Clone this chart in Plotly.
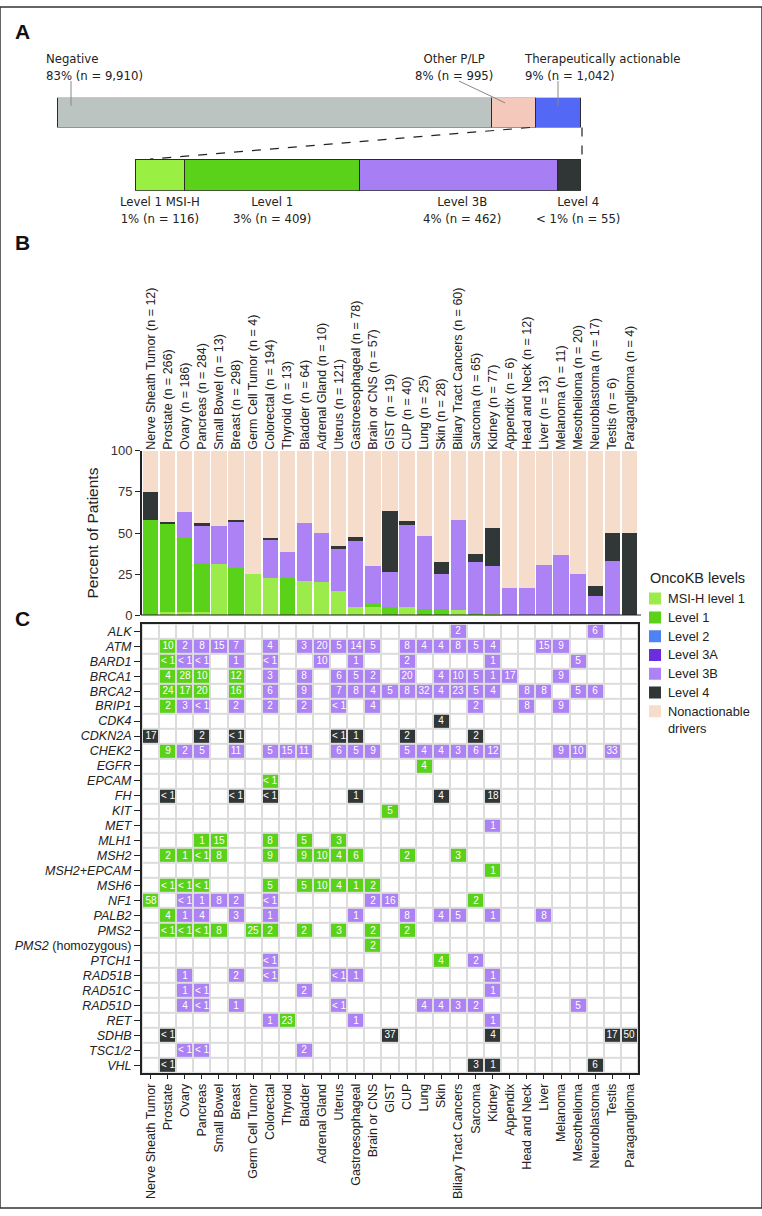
import plotly.graph_objects as go

W, H = 762, 1216

# ---------------- panel A ----------------
OVERVIEW_LABELS = ["Negative", "Other P/LP", "Therapeutically actionable"]
OVERVIEW_COUNTS = [9910, 995, 1042]
OVERVIEW_PCT = ["83%", "8%", "9%"]
OVERVIEW_COLORS = ["#bcc4c1", "#f4c8ba", "#5468f6"]

ACTIONABLE_LABELS = ["Level 1 MSI-H", "Level 1", "Level 3B", "Level 4"]
ACTIONABLE_COUNTS = [116, 409, 462, 55]
ACTIONABLE_PCT = ["1%", "3%", "4%", "< 1%"]
ACTIONABLE_COLORS = ["#9af042", "#5bd21a", "#a87ef4", "#303535"]

# ---------------- panel B ----------------
CANCERS = [
    "Nerve Sheath Tumor", "Prostate", "Ovary", "Pancreas", "Small Bowel", "Breast",
    "Germ Cell Tumor", "Colorectal", "Thyroid", "Bladder", "Adrenal Gland", "Uterus",
    "Gastroesophageal", "Brain or CNS", "GIST", "CUP", "Lung", "Skin",
    "Biliary Tract Cancers", "Sarcoma", "Kidney", "Appendix", "Head and Neck", "Liver",
    "Melanoma", "Mesothelioma", "Neuroblastoma", "Testis", "Paraganglioma",
]
CANCER_N = [12, 266, 186, 284, 13, 298, 4, 194, 13, 64, 10, 121, 78, 57, 19, 40, 25, 28,
            60, 65, 77, 6, 12, 13, 11, 20, 17, 6, 4]

MSI_H_LEVEL1 = [0, 2, 2, 2, 31, 0, 25, 23, 0, 20.6, 20, 15, 5, 5, 0, 5, 0, 0, 3, 0, 1,
                0, 0, 0, 0, 0, 0, 0, 0]
LEVEL1 = [58, 53.5, 45, 30, 0, 28.6, 0, 0, 23, 0, 0, 0, 0, 2, 5, 0, 4, 4, 0, 1.5, 0,
          0, 0, 0, 0, 0, 0, 0, 0]
LEVEL3B = [0, 0, 16, 22, 23, 28.6, 0, 23, 15.4, 35.6, 30, 26, 40, 23, 21.4, 50.2, 44.2,
           21.2, 55.2, 31.1, 29, 16.7, 16.7, 30.8, 36.4, 25, 11.8, 33.3, 0]
LEVEL4 = [17, 1.3, 0, 2, 0, 0.8, 0, 1, 0, 0, 0, 1, 2.6, 0, 36.8, 2.4, 0, 7.2, 0, 4.4,
          23.2, 0, 0, 0, 0, 0, 5.9, 16.7, 50]
NONACTIONABLE = [25, 43.2, 37, 44, 46, 42, 75, 53, 61.6, 43.8, 50, 58, 52.4, 70, 36.8,
                 42.4, 51.8, 67.6, 41.8, 63, 46.8, 83.3, 83.3, 69.2, 63.6, 75, 82.3, 50, 50]

LEGEND_LABELS = ["MSI-H level 1", "Level 1", "Level 2", "Level 3A", "Level 3B", "Level 4",
                 "Nonactionable<br>drivers"]

# ---------------- panel C ----------------
GENES = [
    "ALK", "ATM", "BARD1", "BRCA1", "BRCA2", "BRIP1", "CDK4", "CDKN2A", "CHEK2", "EGFR",
    "EPCAM", "FH", "KIT", "MET", "MLH1", "MSH2", "MSH2+EPCAM", "MSH6", "NF1", "PALB2",
    "PMS2", "PMS2 (homozygous)", "PTCH1", "RAD51B", "RAD51C", "RAD51D", "RET", "SDHB",
    "TSC1/2", "VHL",
]
# column index : level (g = level 1, p = level 3B, k = level 4) : percent
GRID_CELLS = [
    "18:p:2 26:p:6",
    "1:g:10 2:p:2 3:p:8 4:p:15 5:p:7 7:p:4 9:p:3 10:p:20 11:p:5 12:p:14 13:p:5 15:p:8 "
    "16:p:4 17:p:4 18:p:8 19:p:5 20:p:4 23:p:15 24:p:9",
    "1:g:<1 2:p:<1 3:p:<1 5:p:1 7:p:<1 10:p:10 12:p:1 15:p:2 20:p:1 25:p:5",
    "1:g:4 2:g:28 3:g:10 5:g:12 7:p:3 9:p:8 11:p:6 12:p:5 13:p:2 15:p:20 17:p:4 18:p:10 "
    "19:p:5 20:p:1 21:p:17 24:p:9",
    "1:g:24 2:g:17 3:g:20 5:g:16 7:p:6 9:p:9 11:p:7 12:p:8 13:p:4 14:p:5 15:p:8 16:p:32 "
    "17:p:4 18:p:23 19:p:5 20:p:4 22:p:8 23:p:8 25:p:5 26:p:6",
    "1:g:2 2:p:3 3:p:<1 5:p:2 7:p:2 9:p:2 11:p:<1 13:p:4 19:p:2 22:p:8 24:p:9",
    "17:k:4",
    "0:k:17 3:k:2 5:k:<1 11:k:<1 12:k:1 15:k:2 19:k:2",
    "1:g:9 2:p:2 3:p:5 5:p:11 7:p:5 8:p:15 9:p:11 11:p:6 12:p:5 13:p:9 15:p:5 16:p:4 "
    "17:p:4 18:p:3 19:p:6 20:p:12 24:p:9 25:p:10 27:p:33",
    "16:g:4",
    "7:g:<1",
    "1:k:<1 5:k:<1 7:k:<1 12:k:1 17:k:4 20:k:18",
    "14:g:5",
    "20:p:1",
    "3:g:1 4:g:15 7:g:8 9:g:5 11:g:3",
    "1:g:2 2:g:1 3:g:<1 4:g:8 7:g:9 9:g:9 10:g:10 11:g:4 12:g:6 15:g:2 18:g:3",
    "20:g:1",
    "1:g:<1 2:g:<1 3:g:<1 7:g:5 9:g:5 10:g:10 11:g:4 12:g:1 13:g:2",
    "0:g:58 2:p:<1 3:p:1 4:p:8 5:p:2 7:p:<1 13:p:2 14:p:16 19:g:2",
    "1:g:4 2:p:1 3:p:4 5:p:3 7:p:1 12:p:1 15:p:8 17:p:4 18:p:5 20:p:1 23:p:8",
    "1:g:<1 2:g:<1 3:g:<1 4:g:8 6:g:25 7:g:2 9:g:2 11:g:3 13:g:2 15:g:2",
    "13:g:2",
    "7:p:<1 17:g:4 19:p:2",
    "2:p:1 5:p:2 7:p:<1 11:p:<1 12:p:1 20:p:1",
    "2:p:1 3:p:<1 9:p:2 20:p:1",
    "2:p:4 3:p:<1 5:p:1 11:p:<1 16:p:4 17:p:4 18:p:3 19:p:2 25:p:5",
    "7:p:1 8:g:23 12:p:1 20:p:1",
    "1:k:<1 14:k:37 20:k:4 27:k:17 28:k:50",
    "2:p:<1 3:p:<1 9:p:2",
    "1:k:<1 19:k:3 20:k:1 26:k:6",
]

FONT = "Liberation Sans, Arial, sans-serif"
NARROW = "Liberation Sans Narrow, DejaVu Sans Condensed, Liberation Sans, sans-serif"
GREEN_LIGHT, GREEN, BLUE, VIOLET, PURPLE, BLACK, PEACH = (
    "#9bec4a", "#5bd21a", "#4f82f2", "#6a2ee0", "#ac82f4", "#313636", "#f5dccb")
LEGEND_COLORS = [GREEN_LIGHT, GREEN, BLUE, VIOLET, PURPLE, BLACK, PEACH]


def px(x):
    return x / W


def py(y):
    return 1 - y / H


def build_grid():
    codes = {"g": 1, "p": 2, "k": 3}
    z = [[0] * len(CANCERS) for _ in GENES]
    text = [[""] * len(CANCERS) for _ in GENES]
    for r, spec in enumerate(GRID_CELLS):
        for token in spec.split():
            col, level, value = token.split(":")
            z[r][int(col)] = codes[level]
            text[r][int(col)] = value.replace("<", "< ")
    return z, text


fig = go.Figure()

# ---- panel A bars ----
for label, count, color in zip(OVERVIEW_LABELS, OVERVIEW_COUNTS, OVERVIEW_COLORS):
    fig.add_trace(go.Bar(
        x=[count], y=["all"], orientation="h", xaxis="x3", yaxis="y3", width=1,
        marker=dict(color=color, line=dict(color="#2b2b2b", width=1.2)),
        showlegend=False, hoverinfo="skip", name=label,
    ))
for label, count, color in zip(ACTIONABLE_LABELS, ACTIONABLE_COUNTS, ACTIONABLE_COLORS):
    fig.add_trace(go.Bar(
        x=[count], y=["actionable"], orientation="h", xaxis="x4", yaxis="y4", width=1,
        marker=dict(color=color, line=dict(color="#2b2b2b", width=1.2)),
        showlegend=False, hoverinfo="skip", name=label,
    ))

# ---- panel B stacked bars ----
series = [
    ("MSI-H level 1", MSI_H_LEVEL1, GREEN_LIGHT),
    ("Level 1", LEVEL1, GREEN),
    ("Level 3B", LEVEL3B, PURPLE),
    ("Level 4", LEVEL4, BLACK),
    ("Nonactionable drivers", NONACTIONABLE, PEACH),
]
for name, values, color in series:
    fig.add_trace(go.Bar(
        x=CANCERS, y=values, name=name, marker=dict(color=color, line=dict(width=0)),
        xaxis="x", yaxis="y", hoverinfo="skip", showlegend=False,
    ))

# ---- legend keys (own small axis) ----
fig.add_trace(go.Scatter(
    x=["key"] * len(LEGEND_LABELS), y=LEGEND_LABELS, mode="markers",
    marker=dict(symbol="square", size=12, color=LEGEND_COLORS, line=dict(width=0)),
    xaxis="x6", yaxis="y6", showlegend=False, hoverinfo="skip",
))

# ---- panel C heatmap ----
z, text = build_grid()
fig.add_trace(go.Heatmap(
    z=z, x=CANCERS, y=GENES, text=text, texttemplate="%{text}",
    textfont=dict(color="white", size=10, family=FONT),
    colorscale=[[0, "#ffffff"], [0.166, "#ffffff"], [0.167, GREEN], [0.5, GREEN],
                [0.501, PURPLE], [0.833, PURPLE], [0.834, BLACK], [1, BLACK]],
    zmin=0, zmax=3, showscale=False, xgap=2, ygap=2,
    xaxis="x5", yaxis="y5", hoverinfo="skip",
))

top_labels = [f"{c} (n = {n})" for c, n in zip(CANCERS, CANCER_N)]
gene_labels = [f"<i>{g}</i>" if " " not in g else "<i>PMS2</i> (homozygous)" for g in GENES]

annotations = []
# panel letters
for letter, y in [("A", 25), ("B", 238), ("C", 619)]:
    annotations.append(dict(text=f"<b>{letter}</b>", x=px(13), y=py(y), xref="paper",
                            yref="paper", xanchor="left", yanchor="middle", showarrow=False,
                            font=dict(size=21, family=FONT, color="#111")))

# panel A labels
top_pos = [(44, "left"), (454, "center"), (522, "left")]
for (x, anchor), label, pct, count in zip(top_pos, OVERVIEW_LABELS, OVERVIEW_PCT, OVERVIEW_COUNTS):
    annotations.append(dict(text=f"{label}<br>{pct} (n = {count:,})", x=px(x), y=py(43),
                            xref="paper", yref="paper", xanchor=anchor, yanchor="top",
                            align=anchor, showarrow=False,
                            font=dict(size=13, family=NARROW, color="#222")))
bottom_pos = [160, 272, 462, 578]
for x, label, pct, count in zip(bottom_pos, ACTIONABLE_LABELS, ACTIONABLE_PCT, ACTIONABLE_COUNTS):
    annotations.append(dict(text=f"{label}<br>{pct} (n = {count:,})", x=px(x), y=py(187),
                            xref="paper", yref="paper", xanchor="center", yanchor="top",
                            align="center", showarrow=False,
                            font=dict(size=13, family=NARROW, color="#222")))

# legend texts
annotations.append(dict(text="OncoKB levels", x=px(648), y=py(578), xref="paper",
                        yref="paper", xanchor="left", yanchor="middle", showarrow=False,
                        font=dict(size=14.5, family=FONT, color="#222")))
for label in LEGEND_LABELS:
    multi = "<br>" in label
    annotations.append(dict(text=label, x=1, y=label, xref="x6 domain", yref="y6",
                            xanchor="left", yanchor="middle", xshift=5,
                            yshift=-8.5 if multi else 0, align="left", showarrow=False,
                            font=dict(size=12.8, family=FONT, color="#222")))

shapes = [
    # figure frame
    dict(type="rect", xref="paper", yref="paper", x0=0, x1=1, y0=0, y1=1,
         line=dict(color="#333", width=1.5)),
    # pointer lines panel A
    dict(type="line", xref="paper", yref="paper", x0=px(71), x1=px(71), y0=py(75), y1=py(100),
         line=dict(color="#888", width=1)),
    dict(type="line", xref="paper", yref="paper", x0=px(459), x1=px(505), y0=py(75), y1=py(97),
         line=dict(color="#888", width=1)),
    dict(type="line", xref="paper", yref="paper", x0=px(558), x1=px(558), y0=py(75), y1=py(100),
         line=dict(color="#888", width=1)),
    # zoom lines
    dict(type="line", xref="paper", yref="paper", x0=px(530), x1=px(150), y0=py(122), y1=py(154),
         line=dict(color="#222", width=1.2, dash="dash")),
    dict(type="line", xref="paper", yref="paper", x0=px(582), x1=px(582), y0=py(122), y1=py(154),
         line=dict(color="#222", width=1.2, dash="dash")),
    # panel B baseline
    dict(type="line", xref="paper", yref="y", x0=px(141), x1=px(641), y0=0, y1=0,
         line=dict(color="#222", width=2)),
    # panel C grid background
    dict(type="rect", xref="x5 domain", yref="y5 domain", x0=0, x1=1, y0=0, y1=1,
         fillcolor="#dcdcdc", line=dict(width=0), layer="below"),
]

XDOM = [px(142), px(638)]
hidden = dict(visible=False, showgrid=False, zeroline=False)

fig.update_layout(
    width=W, height=H, autosize=False,
    margin=dict(l=0, r=0, t=0, b=0),
    paper_bgcolor="white", plot_bgcolor="white",
    barmode="stack", bargap=0.1,
    font=dict(family=FONT, color="#222"),
    showlegend=False,
    xaxis=dict(domain=XDOM, anchor="y", type="category", categoryorder="array",
               categoryarray=CANCERS, range=[-0.5, 28.5], side="top",
               tickmode="array", tickvals=CANCERS, ticktext=top_labels, tickangle=-90,
               ticks="", showline=False, showgrid=False,
               tickfont=dict(size=12.5, family=FONT, color="#222")),
    yaxis=dict(domain=[py(616), py(449.3)], anchor="x", range=[0, 100],
               tickvals=[0, 25, 50, 75, 100], ticks="outside", ticklen=5,
               tickcolor="#222", showline=True, linecolor="#222", linewidth=2,
               showgrid=False, zeroline=False,
               tickfont=dict(size=13, family=FONT, color="#333"),
               title=dict(text="Percent of Patients", font=dict(size=15.5, family=FONT,
                                                                color="#222"), standoff=8)),
    xaxis3=dict(domain=[px(57), px(581)], anchor="y3", range=[0, sum(OVERVIEW_COUNTS)], **hidden),
    yaxis3=dict(domain=[py(122), py(92)], anchor="x3", range=[-0.5, 0.5], **hidden),
    xaxis4=dict(domain=[px(135), px(581)], anchor="y4", range=[0, sum(ACTIONABLE_COUNTS)], **hidden),
    yaxis4=dict(domain=[py(186), py(154)], anchor="x4", range=[-0.5, 0.5], **hidden),
    xaxis5=dict(domain=XDOM, anchor="y5", type="category", categoryorder="array",
                categoryarray=CANCERS, range=[-0.5, 28.5], tickangle=-90, ticks="outside",
                ticklen=4, tickcolor="#222", showline=True, mirror=True, linecolor="#222",
                linewidth=2, showgrid=False, zeroline=False,
                tickfont=dict(size=12.5, family=FONT, color="#222")),
    yaxis5=dict(domain=[py(1079), py(624.5)], anchor="x5", type="category",
                categoryorder="array", categoryarray=GENES, range=[len(GENES) - 0.5, -0.5],
                tickmode="array", tickvals=GENES, ticktext=gene_labels, ticks="outside",
                ticklen=6, tickcolor="#222", showline=True, mirror=True, linecolor="#222",
                linewidth=2, showgrid=False, zeroline=False,
                tickfont=dict(size=12.5, family=FONT, color="#222")),
    xaxis6=dict(domain=[px(649), px(661)], anchor="y6", type="category", range=[-0.5, 0.5],
                **hidden),
    yaxis6=dict(domain=[py(599 + 6 * 19 + 9.5), py(599 - 9.5)], anchor="x6", type="category",
                categoryorder="array", categoryarray=LEGEND_LABELS,
                range=[len(LEGEND_LABELS) - 0.5, -0.5], **hidden),
    annotations=annotations,
    shapes=shapes,
)

fig.write_html("out.html", config={"displayModeBar": False},
               post_script="document.body.style.margin='0';")
